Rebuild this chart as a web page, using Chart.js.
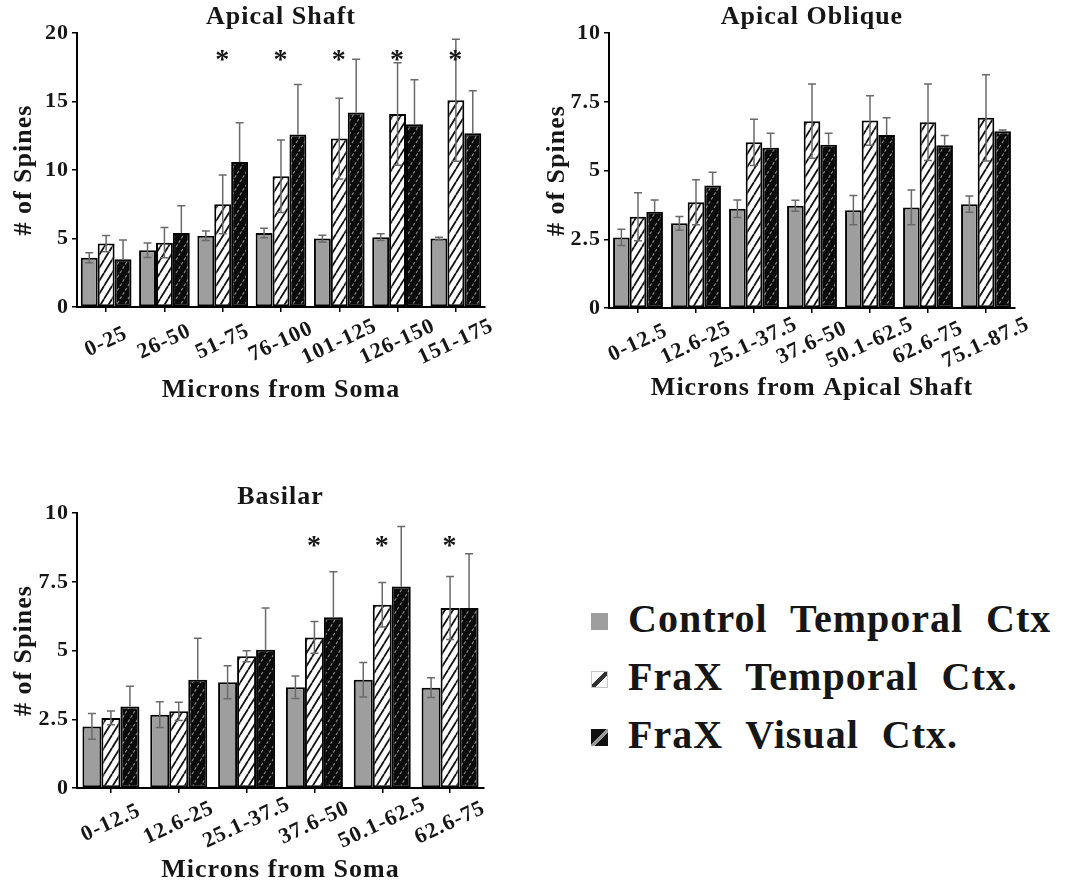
<!DOCTYPE html>
<html>
<head>
<meta charset="utf-8">
<script src="https://cdn.jsdelivr.net/npm/chart.js@4.4.0/dist/chart.umd.min.js"></script>
<style>
  body { margin: 0; background: #fff; width: 1065px; height: 886px; overflow: hidden; position: relative; }
  canvas { position: absolute; }
  #legend { position: absolute; left: 591px; top: 590px; font-family: 'Liberation Serif', 'Times New Roman', serif;
            font-weight: bold; font-size: 40px; color: #161616; letter-spacing: 1px; word-spacing: 12px; }
  .row { position: relative; height: 58px; line-height: 58px; padding-left: 37px; white-space: nowrap; }
  .sw { position: absolute; left: 0; top: 23px; width: 17px; height: 17px; box-sizing: border-box; }
</style>
</head>
<body>
<canvas id="shaft" width="530" height="410" style="left:0;top:0"></canvas>
<canvas id="oblique" width="535" height="410" style="left:530px;top:0"></canvas>
<canvas id="basilar" width="530" height="424" style="left:0;top:462px"></canvas>
<div id="legend"></div>
<script>
'use strict';

const seriesNames = ['Control Temporal Ctx', 'FraX Temporal Ctx.', 'FraX Visual Ctx.'];

// Apical shaft
const shaftLabels = ['0-25', '26-50', '51-75', '76-100', '101-125', '126-150', '151-175'];
const shaftControl = [3.6, 4.15, 5.2, 5.4, 5.0, 5.1, 5.0];
const shaftControlErr = [0.36, 0.53, 0.35, 0.35, 0.25, 0.25, 0.1];
const shaftFxT = [4.63, 4.7, 7.5, 9.55, 12.3, 14.1, 15.1];
const shaftFxTErr = [0.6, 1.1, 2.15, 2.65, 2.95, 3.75, 4.45];
const shaftFxV = [3.49, 5.4, 10.6, 12.6, 14.2, 13.35, 12.7];
const shaftFxVErr = [1.4, 2.0, 2.85, 3.65, 3.9, 3.25, 3.1];
const shaftStars = [0, 0, 1, 1, 1, 1, 1];

// Apical oblique
const obliqueLabels = ['0-12.5', '12.6-25', '25.1-37.5', '37.6-50', '50.1-62.5', '62.6-75', '75.1-87.5'];
const obliqueControl = [2.57, 3.08, 3.61, 3.72, 3.56, 3.66, 3.78];
const obliqueControlErr = [0.3, 0.25, 0.32, 0.2, 0.53, 0.63, 0.3];
const obliqueFxT = [3.32, 3.85, 6.03, 6.8, 6.82, 6.76, 6.92];
const obliqueFxTErr = [0.87, 0.82, 0.84, 1.35, 0.9, 1.39, 1.57];
const obliqueFxV = [3.5, 4.46, 5.83, 5.94, 6.3, 5.92, 6.43];
const obliqueFxVErr = [0.43, 0.48, 0.53, 0.42, 0.62, 0.36, 0.05];

// Basilar
const basilarLabels = ['0-12.5', '12.6-25', '25.1-37.5', '37.6-50', '50.1-62.5', '62.6-75'];
const basilarControl = [2.24, 2.67, 3.85, 3.67, 3.94, 3.65];
const basilarControlErr = [0.47, 0.47, 0.6, 0.41, 0.63, 0.36];
const basilarFxT = [2.55, 2.79, 4.79, 5.48, 6.67, 6.55];
const basilarFxTErr = [0.25, 0.33, 0.2, 0.58, 0.81, 1.15];
const basilarFxV = [2.97, 3.94, 5.03, 6.21, 7.33, 6.55];
const basilarFxVErr = [0.73, 1.51, 1.52, 1.66, 2.19, 1.97];
const basilarStars = [0, 0, 0, 1, 1, 1];

const serif = "'Liberation Serif', 'Times New Roman', serif";
Chart.defaults.font.family = serif;
Chart.defaults.font.weight = 'bold';
Chart.defaults.color = '#161616';

function hatch(bg, fg, lw, dash) {
  const c = document.createElement('canvas');
  const w = 8, h = 13;
  c.width = w; c.height = h;
  const g = c.getContext('2d');
  g.fillStyle = bg; g.fillRect(0, 0, w, h);
  g.strokeStyle = fg; g.lineWidth = lw;
  if (dash) g.setLineDash(dash);
  [-w, 0, w].forEach(dx => {
    g.beginPath(); g.moveTo(dx, h); g.lineTo(dx + w, 0); g.stroke();
  });
  return g.createPattern(c, 'repeat');
}
const grayFill = '#9e9e9e';
const whiteHatch = hatch('#ffffff', '#111111', 1.8);
const blackHatch = hatch('#0a0a0a', '#939393', 1.1, [3, 2]);

// error bars drawn on top of the bars
const errorBars = {
  id: 'errorBars',
  afterDatasetsDraw(chart) {
    const ctx = chart.ctx, y = chart.scales.y;
    ctx.save();
    ctx.strokeStyle = '#6a6a6a';
    ctx.lineWidth = 1.5;
    chart.data.datasets.forEach((ds, di) => {
      chart.getDatasetMeta(di).data.forEach((bar, i) => {
        const v = ds.data[i], e = ds.errors[i];
        const top = y.getPixelForValue(v + e);
        const bot = ds.lowerErr ? y.getPixelForValue(v - e) : bar.y;
        ctx.beginPath();
        ctx.moveTo(bar.x, bot); ctx.lineTo(bar.x, top);
        ctx.moveTo(bar.x - 4, top); ctx.lineTo(bar.x + 4, top);
        if (ds.lowerErr) { ctx.moveTo(bar.x - 4, bot); ctx.lineTo(bar.x + 4, bot); }
        ctx.stroke();
      });
    });
    ctx.restore();
  }
};

// significance asterisks above the FraX temporal bars
const stars = {
  id: 'stars',
  afterDatasetsDraw(chart, args, opts) {
    if (!opts.flags) return;
    const ctx = chart.ctx;
    const meta = chart.getDatasetMeta(1);
    const y = chart.scales.y.getPixelForValue(opts.at);
    ctx.save();
    ctx.font = 'bold 28px ' + serif;
    ctx.fillStyle = '#161616';
    ctx.textAlign = 'center';
    ctx.textBaseline = 'alphabetic';
    opts.flags.forEach((f, i) => {
      if (f) ctx.fillText('*', meta.data[i].x, y + 13);
    });
    ctx.restore();
  }
};

// slanted category labels, centred under each tick
const slantLabels = {
  id: 'slantLabels',
  afterDraw(chart) {
    const ctx = chart.ctx, x = chart.scales.x;
    ctx.save();
    ctx.font = 'bold 22px ' + serif;
    ctx.fillStyle = '#161616';
    ctx.textAlign = 'center';
    ctx.textBaseline = 'middle';
    x.ticks.forEach((t, i) => {
      ctx.save();
      ctx.translate(x.getPixelForTick(i), x.top + 35);
      ctx.rotate(-25 * Math.PI / 180);
      ctx.fillText(chart.data.labels[i], 0, 0);
      ctx.restore();
    });
    ctx.restore();
  }
};

const spacing = {
  id: 'spacing',
  beforeUpdate(chart) { chart.ctx.letterSpacing = '1px'; },
  beforeDraw(chart) { chart.ctx.letterSpacing = '1px'; }
};

function makeChart(id, o) {
  return new Chart(document.getElementById(id), {
    type: 'bar',
    data: {
      labels: o.labels,
      datasets: [
        { label: seriesNames[0], data: o.values[0], errors: o.errors[0], backgroundColor: grayFill, lowerErr: true },
        { label: seriesNames[1], data: o.values[1], errors: o.errors[1], backgroundColor: whiteHatch, lowerErr: true },
        { label: seriesNames[2], data: o.values[2], errors: o.errors[2], backgroundColor: blackHatch, lowerErr: false }
      ]
    },
    options: {
      responsive: false,
      animation: false,
      devicePixelRatio: 1,
      datasets: {
        bar: { borderColor: '#000', borderWidth: 2, borderSkipped: false,
               categoryPercentage: o.catPct, barPercentage: 1 }
      },
      layout: { padding: { left: 0, right: o.padRight, top: 0, bottom: 0 } },
      plugins: {
        legend: { display: false },
        tooltip: { enabled: false },
        title: { display: true, text: o.title, fullSize: false,
                 font: { size: 26, weight: 'bold' }, padding: { top: o.titleTop, bottom: 0 } },
        stars: { flags: o.stars, at: o.starAt }
      },
      scales: {
        x: {
          grid: { drawOnChartArea: false, offset: false, tickLength: 5, color: '#000', lineWidth: 1.5 },
          border: { color: '#000', width: 2 },
          ticks: { color: 'rgba(0,0,0,0)', font: { size: 22, weight: 'bold' },
                   minRotation: 25, maxRotation: 25, autoSkip: false },
          title: { display: true, text: o.xTitle, font: { size: 26, weight: 'bold' },
                   padding: { top: 0, bottom: o.xTitlePad } },
          afterFit(s) { s.height = o.xHeight; }
        },
        y: {
          min: 0, max: o.yMax,
          grid: { drawOnChartArea: false, tickLength: 5, color: '#000', lineWidth: 1.5 },
          border: { color: '#000', width: 2 },
          ticks: { stepSize: o.step, font: { size: 22, weight: 'bold' }, padding: 3 },
          title: { display: true, text: '# of Spines', font: { size: 26, weight: 'bold' },
                   padding: { top: o.yTitlePad, bottom: 0 } },
          afterFit(s) { s.width = o.yWidth; }
        }
      }
    },
    plugins: [spacing, errorBars, stars, slantLabels]
  });
}

makeChart('shaft', {
  labels: shaftLabels,
  values: [shaftControl, shaftFxT, shaftFxV],
  errors: [shaftControlErr, shaftFxTErr, shaftFxVErr],
  stars: shaftStars, starAt: 18.4,
  title: 'Apical Shaft', titleTop: 2,
  xTitle: 'Microns from Soma', xTitlePad: 4, xHeight: 103,
  yMax: 20, step: 5, yWidth: 77, yTitlePad: 9,
  padRight: 45, catPct: 0.87
});

makeChart('oblique', {
  labels: obliqueLabels,
  values: [obliqueControl, obliqueFxT, obliqueFxV],
  errors: [obliqueControlErr, obliqueFxTErr, obliqueFxVErr],
  stars: null, starAt: 0,
  title: 'Apical Oblique', titleTop: 2,
  xTitle: 'Microns from Apical Shaft', xTitlePad: 6, xHeight: 102,
  yMax: 10, step: 2.5, yWidth: 79, yTitlePad: 12,
  padRight: 50, catPct: 0.86
});

makeChart('basilar', {
  labels: basilarLabels,
  values: [basilarControl, basilarFxT, basilarFxV],
  errors: [basilarControlErr, basilarFxTErr, basilarFxVErr],
  stars: basilarStars, starAt: 9.0,
  title: 'Basilar', titleTop: 20,
  xTitle: 'Microns from Soma', xTitlePad: 0, xHeight: 98,
  yMax: 10, step: 2.5, yWidth: 77, yTitlePad: 9,
  padRight: 46, catPct: 0.84
});

// legend
const swatchStyles = [
  'background:' + grayFill + ';',
  'background:linear-gradient(to top left,#fff 40%,#333 40%,#333 58%,#fff 58%);border:1px solid #c8c8c8;',
  'background:linear-gradient(to top left,#111 40%,#999 40%,#999 55%,#111 55%);'
];
const legend = document.getElementById('legend');
seriesNames.forEach((name, i) => {
  const row = document.createElement('div');
  row.className = 'row';
  row.innerHTML = '<span class="sw" style="' + swatchStyles[i] + '"></span>' + name;
  legend.appendChild(row);
});
</script>
</body>
</html>
